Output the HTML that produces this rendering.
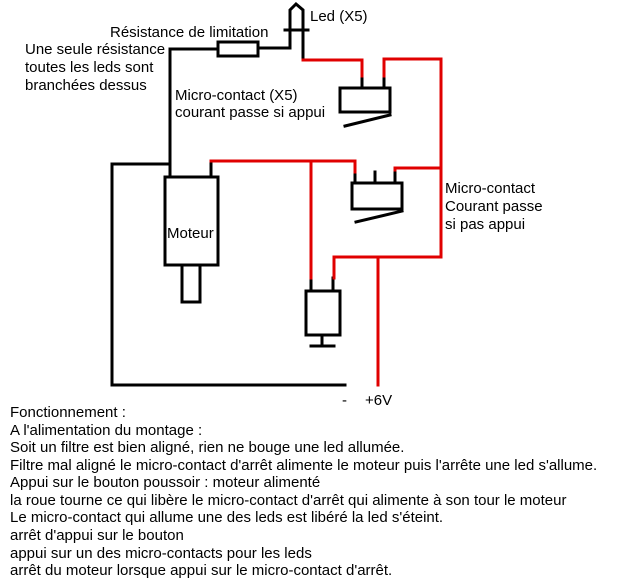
<!DOCTYPE html>
<html><head><meta charset="utf-8"><style>
html,body{margin:0;padding:0;background:#fff;}
svg{display:block;}
text{font-family:"Liberation Sans",Arial,sans-serif;font-size:15px;fill:#000;}
</style></head><body>
<svg width="618" height="587" viewBox="0 0 618 587" xmlns="http://www.w3.org/2000/svg">
<g fill="none" stroke-linecap="square">
<g stroke="#000" stroke-width="3">
<polyline points="170,165 170,49 218,49"/>
<rect x="218" y="42" width="40" height="14"/>
<polyline points="258,48 290,48 290,10 296,4 303,10 303,60"/>
<line x1="285" y1="30" x2="308" y2="30"/>
<polyline points="170,164 112,164 112,385 345,385"/>
<line x1="170" y1="164" x2="170" y2="177"/>
<line x1="211" y1="161" x2="211" y2="177"/>
<rect x="165" y="177" width="53" height="88"/>
<rect x="182" y="265" width="18" height="37"/>
<rect x="340" y="88" width="50" height="24"/>
<line x1="362" y1="76" x2="362" y2="88"/>
<line x1="384" y1="76" x2="384" y2="88"/>
<line x1="345" y1="126" x2="390" y2="115"/>
<rect x="352" y="183" width="50" height="26"/>
<line x1="355" y1="172" x2="355" y2="183"/>
<line x1="375" y1="172" x2="375" y2="183"/>
<line x1="395" y1="170" x2="395" y2="183"/>
<line x1="356" y1="222" x2="402" y2="211"/>
<rect x="306" y="291" width="34" height="44"/>
<line x1="311" y1="278" x2="311" y2="291"/>
<line x1="333" y1="278" x2="333" y2="291"/>
<line x1="322" y1="335" x2="322" y2="344"/>
<line x1="311" y1="346" x2="334" y2="346"/>
</g>
<g stroke="#e00000" stroke-width="3">
<polyline points="303,60 362,60 362,76"/>
<polyline points="384,76 384,59 441,59 441,257 334,257 334,278"/>
<polyline points="211,161 355,161 355,172"/>
<line x1="311" y1="161" x2="311" y2="278"/>
<polyline points="395,170 395,168 441,168"/>
<line x1="378" y1="257" x2="378" y2="385"/>
</g>
</g>
<text x="310" y="21">Led (X5)</text>
<text x="110" y="37">Résistance de limitation</text>
<text x="25" y="54">Une seule résistance</text>
<text x="25" y="72">toutes les leds sont</text>
<text x="25" y="90">branchées dessus</text>
<text x="175" y="100">Micro-contact (X5)</text>
<text x="175" y="117">courant passe si appui</text>
<text x="445" y="193">Micro-contact</text>
<text x="445" y="211">Courant passe</text>
<text x="445" y="229">si pas appui</text>
<text x="167" y="238">Moteur</text>
<text x="342" y="405">-</text>
<text x="365" y="405">+6V</text>
<text x="10" y="417">Fonctionnement :</text>
<text x="10" y="435">A l'alimentation du montage :</text>
<text x="10" y="452">Soit un filtre est bien aligné, rien ne bouge une led allumée.</text>
<text x="10" y="470">Filtre mal aligné le micro-contact d'arrêt alimente le moteur puis l'arrête une led s'allume.</text>
<text x="10" y="487">Appui sur le bouton poussoir : moteur alimenté</text>
<text x="10" y="505">la roue tourne ce qui libère le micro-contact d'arrêt qui alimente à son tour le moteur</text>
<text x="10" y="522">Le micro-contact qui allume une des leds est libéré la led s'éteint.</text>
<text x="10" y="540">arrêt d'appui sur le bouton</text>
<text x="10" y="558">appui sur un des micro-contacts pour les leds</text>
<text x="10" y="575">arrêt du moteur lorsque appui sur le micro-contact d'arrêt.</text>
</svg>
</body></html>
